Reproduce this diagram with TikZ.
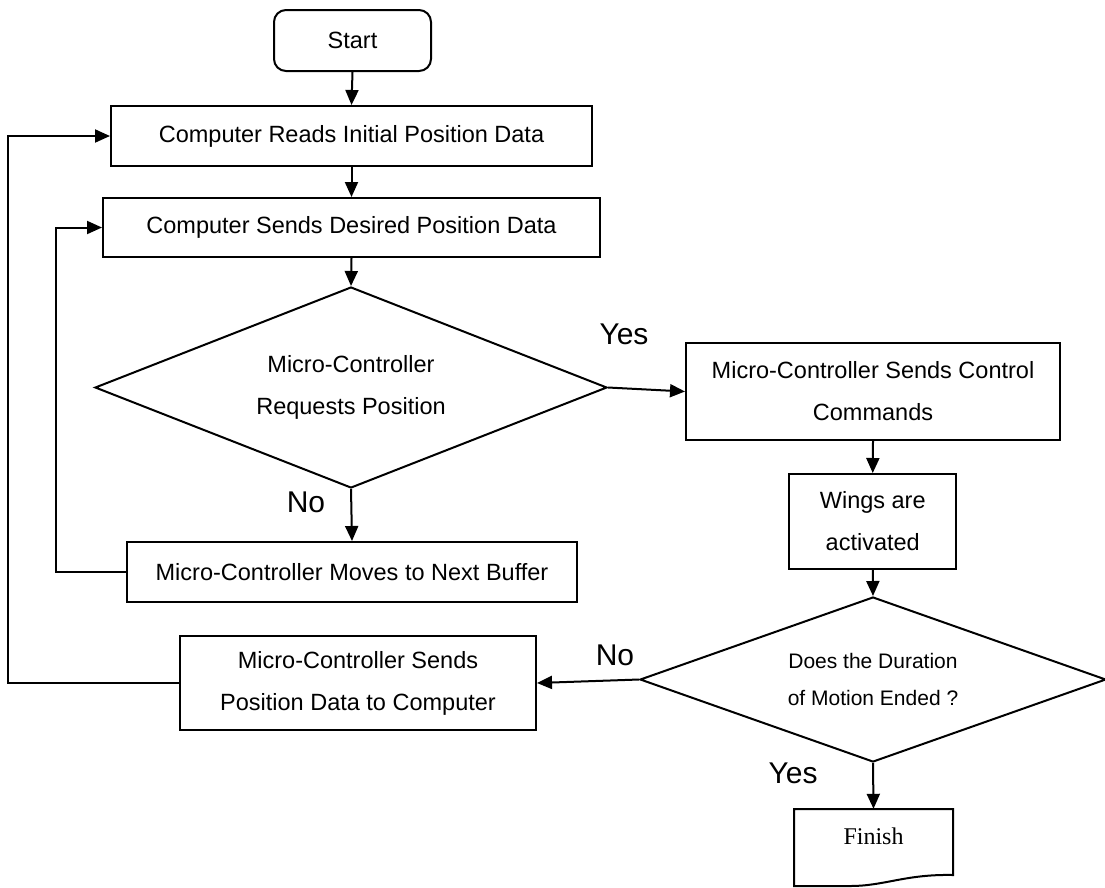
\documentclass[tikz,border=0pt]{standalone}
\usepackage{fontspec}
\setmainfont{Liberation Sans}
\newfontfamily\timesf{Liberation Serif}
\usetikzlibrary{shapes.geometric,arrows.meta}
\begin{document}
\begin{tikzpicture}[x=1pt,y=-1pt,
  base/.style={draw,line width=2pt,inner sep=0pt,align=center,font=\fontsize{23.5pt}{42pt}\selectfont},
  box/.style={base,rectangle},
  dec/.style={base,diamond,aspect=2.5},
  arr/.style={line width=2pt,-{Triangle[length=15pt,width=13pt]}},
  conn/.style={line width=2pt},
  lbl/.style={font=\fontsize{30pt}{36pt}\selectfont,inner sep=0pt},
]
\useasboundingbox (0,0) rectangle (1105,887);
\node[box,rounded corners=12pt,minimum width=157pt,minimum height=61pt] (start) at (352.5,40.5) {Start};
\node[box,minimum width=481pt,minimum height=60pt] (b1) at (351.5,136) {Computer Reads Initial Position Data};
\node[box,minimum width=497pt,minimum height=59pt] (b2) at (351.5,227.5) {Computer Sends Desired Position Data};
\node[dec,minimum width=512pt,minimum height=201pt] (d1) at (351,387.5) {Micro-Controller\\Requests Position};
\node[box,minimum width=374pt,minimum height=97pt] (b3) at (873,391.5) {Micro-Controller Sends Control\\Commands};
\node[box,minimum width=450pt,minimum height=60pt] (b4) at (352,572) {Micro-Controller Moves to Next Buffer};
\node[box,minimum width=167pt,minimum height=95pt] (b5) at (872.75,521.5) {Wings are\\activated};
\node[dec,minimum width=466pt,minimum height=165pt,font=\fontsize{21pt}{37pt}\selectfont] (d2) at (873,679.5) {Does the Duration\\of Motion Ended ?};
\node[box,minimum width=356pt,minimum height=94pt] (b6) at (358,683) {Micro-Controller Sends\\Position Data to Computer};
\draw[conn,line join=miter] (794,886) -- (794,809) -- (953,809) -- (953,875) .. controls (905,874) and (885,886) .. (850,886) -- (794,886) -- cycle;
\node[inner sep=0pt,minimum width=159pt,minimum height=54pt,font=\timesf\fontsize{24pt}{28pt}\selectfont] (finish) at (873.5,836) {Finish};
\coordinate (inner) at (56,400);
\coordinate (outer) at (8,400);
\node[lbl] (yes1) at (624,334) {Yes};
\node[lbl] (no1) at (306,502) {No};
\node[lbl] (no2) at (615,655) {No};
\node[lbl] (yes2) at (793,773) {Yes};
\draw[arr] (start.south) -- (b1.north);
\draw[arr] (b1.south) -- (b2.north);
\draw[arr] (b2.south) -- (d1.north);
\draw[arr] (d1.east) -- (b3.west);
\draw[arr] (d1.south) -- (b4.north);
\draw[arr] (b4.west) -- (b4.west -| inner) -- (b2.west -| inner) -- (b2.west);
\draw[arr] (b3.south) -- (b5.north);
\draw[arr] (b5.south) -- (d2.north);
\draw[arr] (d2.west) -- (b6.east);
\draw[arr] (b6.west) -- (b6.west -| outer) -- (b1.west -| outer) -- (b1.west);
\draw[arr] (d2.south) -- (finish.north);
\end{tikzpicture}
\end{document}
